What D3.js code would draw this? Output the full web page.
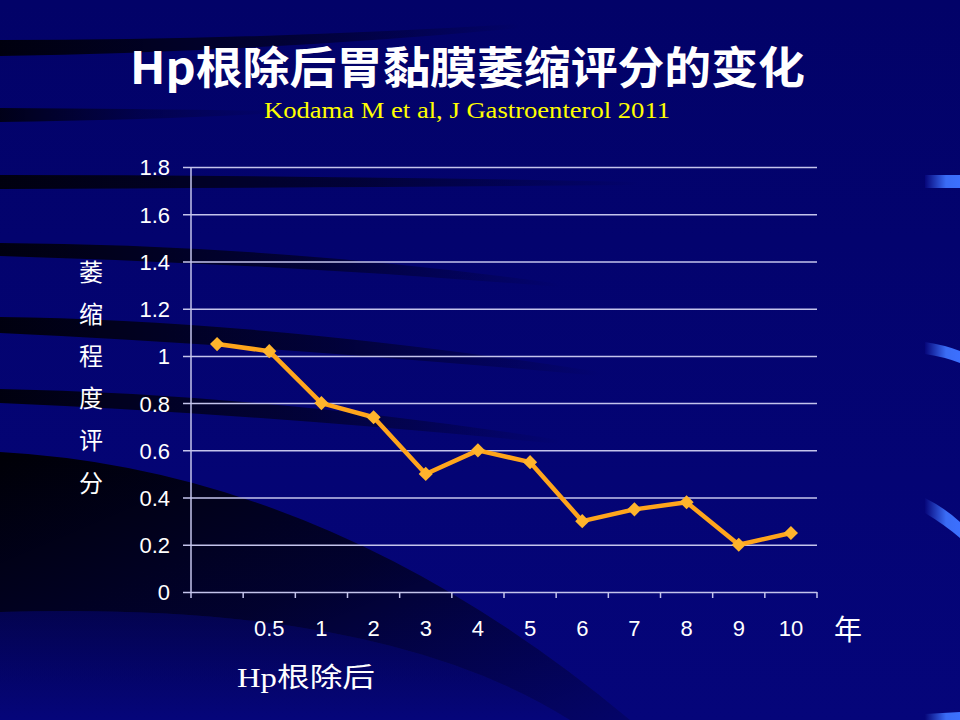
<!DOCTYPE html>
<html><head><meta charset="utf-8">
<script src="https://cdn.jsdelivr.net/npm/d3@7"></script>
<style>html,body{margin:0;padding:0;background:#03036c;}svg{display:block;}</style>
</head><body>
<svg id="c" width="960" height="720"></svg>
<script>
const categories = ["", "0.5", "1", "2", "3", "4", "5", "6", "7", "8", "9", "10"];
const scores = [1.05, 1.02, 0.8, 0.74, 0.5, 0.6, 0.55, 0.3, 0.35, 0.38, 0.2, 0.25];
const yTicks = [0, 0.2, 0.4, 0.6, 0.8, 1, 1.2, 1.4, 1.6, 1.8];
const titleText = "Hp根除后胃黏膜萎缩评分的变化";
const subtitleText = "Kodama M et al, J Gastroenterol 2011";
const yLabelChars = ["萎", "缩", "程", "度", "评", "分"];
const xLabelText = "Hp根除后";
const unitText = "年";

const svg = d3.select("#c");
const defs = svg.append("defs");

// background
const bg = defs.append("linearGradient").attr("id","bg").attr("x1",0).attr("y1",0).attr("x2",0).attr("y2",1);
bg.append("stop").attr("offset",0).attr("stop-color","#020268");
bg.append("stop").attr("offset",1).attr("stop-color","#05057a");
svg.append("rect").attr("width",960).attr("height",720).attr("fill","url(#bg)");

function fadeGrad(id, a0, mid, op){
  const g = defs.append("linearGradient").attr("id",id).attr("x1",0).attr("y1",0).attr("x2",1).attr("y2",0);
  g.append("stop").attr("offset",0).attr("stop-color","#00000a").attr("stop-opacity",a0);
  g.append("stop").attr("offset",op).attr("stop-color","#00000a").attr("stop-opacity",mid);
  g.append("stop").attr("offset",1).attr("stop-color","#00000a").attr("stop-opacity",0);
}
fadeGrad("f1",0.95,0.55,0.55);
fadeGrad("f2",0.85,0.3,0.5);

const bands = [
  "M0,40 Q260,40 520,24 L520,28 Q260,52 0,56 Z",
  "M0,108 Q150,109 280,111 L280,113 Q150,120 0,122 Z",
  "M0,175 Q300,175 640,182 L640,185 Q300,188 0,189 Z",
  "M0,243 Q280,245 560,284 L560,287 Q280,264 0,256 Z",
  "M0,317 Q260,320 600,372 L600,376 Q260,345 0,333 Z",
  "M0,389 Q260,394 560,440 L560,444 Q260,414 0,403 Z"
];
svg.append("g").selectAll("path").data(bands).join("path")
  .attr("d", d=>d).attr("fill", (d,i)=> i===1 ? "url(#f2)" : "url(#f1)");

const big = defs.append("linearGradient").attr("id","big").attr("x1",0).attr("y1",0).attr("x2",1).attr("y2",1);
big.append("stop").attr("offset",0).attr("stop-color","#000006").attr("stop-opacity",1);
big.append("stop").attr("offset",0.5).attr("stop-color","#000010").attr("stop-opacity",0.7);
big.append("stop").attr("offset",1).attr("stop-color","#000020").attr("stop-opacity",0.2);
svg.append("path").attr("d","M0,452 Q330,470 630,720 L570,720 Q380,600 0,612 Z").attr("fill","url(#big)");
const big2 = defs.append("linearGradient").attr("id","big2").attr("x1",0).attr("y1",0).attr("x2",0).attr("y2",1);
big2.append("stop").attr("offset",0).attr("stop-color","#000008").attr("stop-opacity",0.6);
big2.append("stop").attr("offset",1).attr("stop-color","#000010").attr("stop-opacity",0);
svg.append("path").attr("d","M0,612 Q380,600 570,720 L0,720 Z").attr("fill","url(#big2)").attr("opacity",0.6);

// right blue accents
const acc = defs.append("linearGradient").attr("id","acc").attr("x1",0).attr("y1",0).attr("x2",1).attr("y2",0);
acc.append("stop").attr("offset",0).attr("stop-color","#06067a");
acc.append("stop").attr("offset",0.6).attr("stop-color","#3a6cf5");
acc.append("stop").attr("offset",1).attr("stop-color","#3c70ff");
const accents = [
  "M925,175 L960,175 L960,188 L925,188 Z",
  "M925,342 Q945,345 960,351 L960,363 Q945,357 925,354 Z",
  "M925,498 Q945,508 960,522 L960,538 Q945,525 925,513 Z",
  "M925,714 L960,712 L960,720 L925,720 Z"
];
svg.append("g").selectAll("path").data(accents).join("path").attr("d",d=>d).attr("fill","url(#acc)");

// scales
const x = d3.scaleBand().domain(categories).range([191, 817]).paddingInner(0).paddingOuter(0);
const y = d3.scaleLinear().domain([0, 1.8]).range([592, 167]);

// gridlines + y ticks
const gridColor = "#c4c4ec";
const yAxis = d3.axisLeft(y).tickValues(yTicks).tickSize(8).tickFormat(d => String(+d.toFixed(1)));
const gy = svg.append("g").attr("transform","translate(191,0)").call(yAxis);
gy.select(".domain").attr("stroke", gridColor).attr("stroke-width",1.5).attr("d","M0,167V592");
gy.selectAll(".tick line").attr("stroke", gridColor).attr("stroke-width",1.5).attr("x2",626).attr("x1",-8);
gy.selectAll(".tick text").attr("x",-21).attr("dy","0.36em").attr("fill","#fff")
  .style("font-family","'Liberation Sans', Arial, sans-serif").style("font-size","22px");

// x axis
const xAxis = d3.axisBottom(x).tickSize(0).tickPadding(0);
const gx = svg.append("g").attr("transform","translate(0,592)").call(xAxis);
gx.select(".domain").remove();
gx.selectAll(".tick text").attr("y",44).attr("dy","0").attr("fill","#fff")
  .style("font-family","'Liberation Sans', Arial, sans-serif").style("font-size","22px");
const bounds = categories.map(c => x(c)).concat([x.range()[1]]);
svg.append("g").selectAll("line").data(bounds).join("line")
  .attr("x1",d=>d).attr("x2",d=>d).attr("y1",592).attr("y2",598)
  .attr("stroke",gridColor).attr("stroke-width",1.5);

// line series
const cx = c => x(c) + x.bandwidth()/2;
const pts = categories.map((c,i)=>({c, v: scores[i]}));
const line = d3.line().x(d=>cx(d.c)).y(d=>y(d.v));
svg.append("path").datum(pts).attr("d",line).attr("fill","none")
  .attr("stroke","#ffa51c").attr("stroke-width",4.5).attr("stroke-linejoin","round");
svg.append("g").selectAll("path").data(pts).join("path")
  .attr("d", d3.symbol(d3.symbolSquare, 100)())
  .attr("transform", d=>`translate(${cx(d.c)},${y(d.v)}) rotate(45)`)
  .attr("fill","#ffb42c");

// titles
svg.append("text").attr("x",130).attr("y",84).attr("textLength",675).attr("lengthAdjust","spacingAndGlyphs")
  .attr("fill","#fff").style("font-family","'Noto Sans CJK SC', sans-serif").style("font-weight","bold").style("font-size","44px")
  .text(titleText);
svg.append("text").attr("x",264).attr("y",118).attr("textLength",406).attr("lengthAdjust","spacingAndGlyphs")
  .attr("fill","#ffff00").style("font-family","'Liberation Serif', 'Times New Roman', serif").style("font-size","24px")
  .text(subtitleText);

// y label vertical
svg.append("g").selectAll("text").data(yLabelChars).join("text")
  .attr("x",91).attr("y",(d,i)=>270 + i*42.2).attr("text-anchor","middle").attr("dominant-baseline","central")
  .attr("fill","#fff").style("font-family","'Noto Sans CJK SC', sans-serif").style("font-size","24px")
  .text(d=>d);

// x label
svg.append("text").attr("x",237).attr("y",687).attr("textLength",138).attr("lengthAdjust","spacingAndGlyphs")
  .attr("fill","#fff").style("font-family","'Liberation Serif', 'Noto Sans CJK SC', serif").style("font-size","27px")
  .text(xLabelText);
svg.append("text").attr("x",848).attr("y",628).attr("text-anchor","middle").attr("dominant-baseline","central")
  .attr("fill","#fff").style("font-family","'Noto Sans CJK SC', sans-serif").style("font-size","28px")
  .text(unitText);
</script>
</body></html>
